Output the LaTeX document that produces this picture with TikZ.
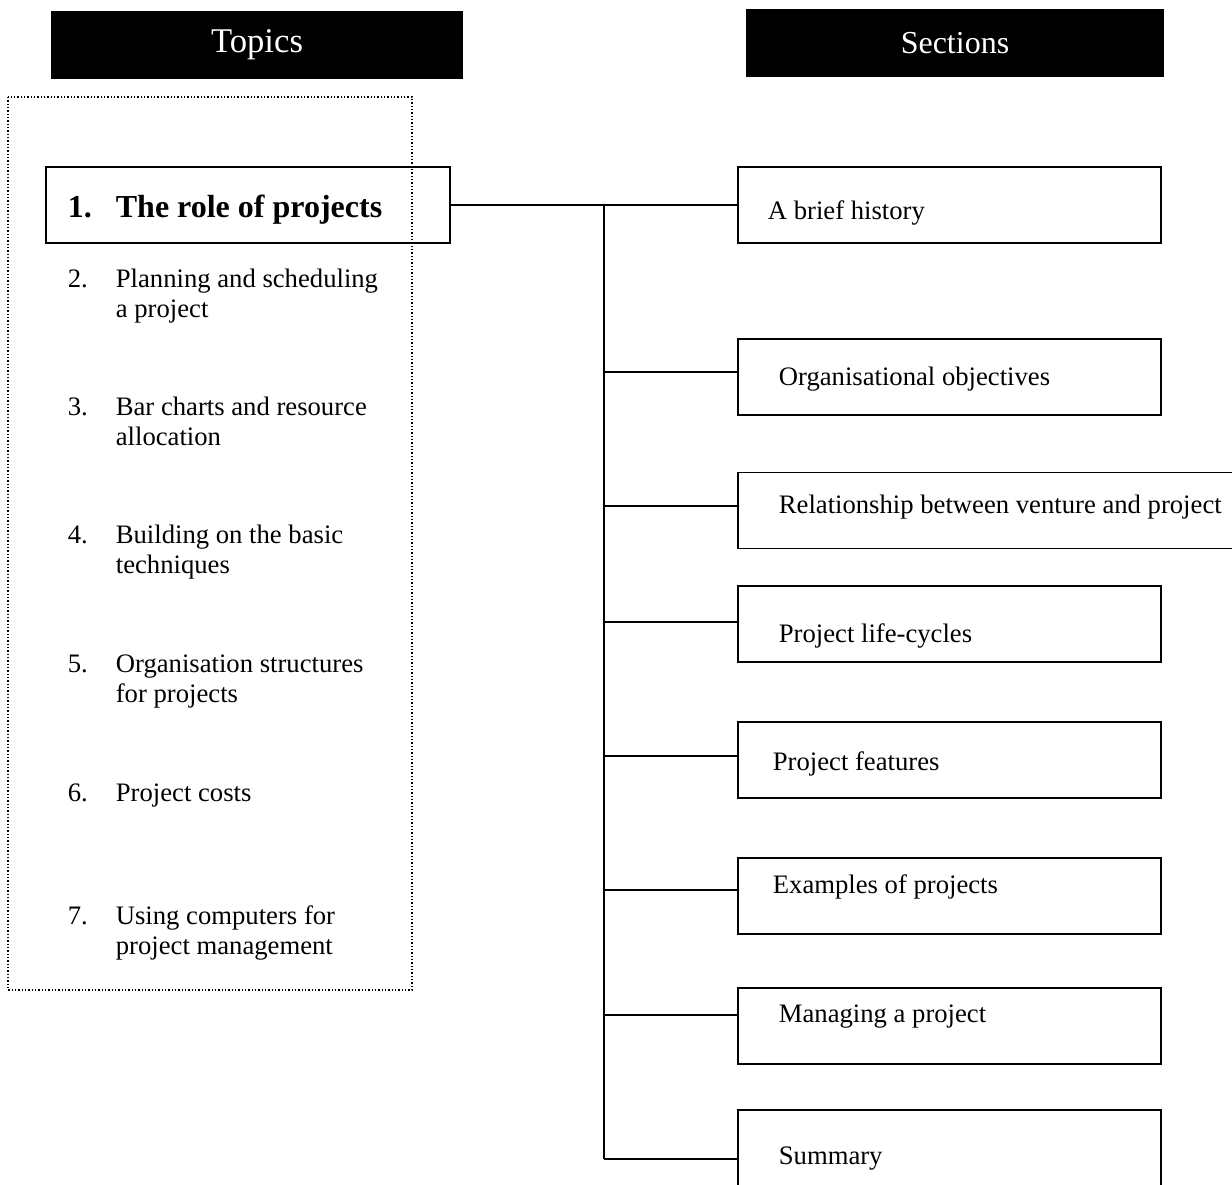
\documentclass[tikz,border=0pt]{standalone}
\usepackage{fontspec}
\setmainfont{Liberation Serif}
\begin{document}
\begin{tikzpicture}[x=0.75pt,y=-0.75pt,
  line width=1.3pt,
  header/.style={fill=black,text=white,inner sep=0pt,minimum width=#1,minimum height=51pt},
  topicbox/.style={draw,inner sep=0pt,minimum width=303pt,minimum height=57pt},
  sectbox/.style={draw,inner sep=0pt,minimum width=317.25pt,minimum height=57pt},
  sectlabel/.style={anchor=base west,inner sep=0pt,font=\fontsize{20}{22.5}\selectfont},
  topicnum/.style={anchor=base west,inner sep=0pt,font=\fontsize{20}{22.5}\selectfont},
  topictext/.style={anchor=base west,inner sep=0pt,font=\fontsize{20}{22.5}\selectfont},
  link/.style={line width=1.3pt}
]
\useasboundingbox (0,0) rectangle (1232,1185);
\clip (0,0) rectangle (1232,1185);

% column headers
\node[header=309pt,font=\fontsize{26}{30}\selectfont] (topics) at (257,45) {Topics};
\node[header=313.5pt,font=\fontsize{24}{28}\selectfont] (sections) at (955,43) {Sections};

% dotted frame round the list of topics
\draw[line width=1.1pt,dash pattern=on 1.1pt off 1.4pt] (8,97) rectangle (412,990);

% current topic
\node[topicbox] (role) at (248,205) {};
\node[anchor=base west,inner sep=0pt,font=\bfseries\fontsize{24}{28}\selectfont] (rolenum) at (67,217) {1.};
\node[anchor=base west,inner sep=0pt,font=\bfseries\fontsize{24}{28}\selectfont] (roletext) at (115,217) {The role of projects};

% remaining topics, one node per printed line
\node[topicnum] (n2) at (67,287) {2.};
\node[topictext] (t2) at (115,287) {Planning and scheduling};
\node[topictext] (t2b) at (115,317) {a project};
\node[topicnum] (n3) at (67,415) {3.};
\node[topictext] (t3) at (115,415) {Bar charts and resource};
\node[topictext] (t3b) at (115,445) {allocation};
\node[topicnum] (n4) at (67,543) {4.};
\node[topictext] (t4) at (115,543) {Building on the basic};
\node[topictext] (t4b) at (115,573) {techniques};
\node[topicnum] (n5) at (67,672) {5.};
\node[topictext] (t5) at (115,672) {Organisation structures};
\node[topictext] (t5b) at (115,702) {for projects};
\node[topicnum] (n6) at (67,801) {6.};
\node[topictext] (t6) at (115,801) {Project costs};
\node[topicnum] (n7) at (67,924) {7.};
\node[topictext] (t7) at (115,924) {Using computers for};
\node[topictext] (t7b) at (115,954) {project management};

% section boxes
\node[sectbox] (s1) at (949.5,205) {};
\node[sectbox] (s2) at (949.5,377) {};
\node[sectbox,minimum width=384pt] (s3) at (994,510.5) {};
\node[sectbox] (s4) at (949.5,624) {};
\node[sectbox] (s5) at (949.5,760) {};
\node[sectbox] (s6) at (949.5,896) {};
\node[sectbox] (s7) at (949.5,1026) {};
\node[sectbox,minimum height=67pt] (s8) at (949.5,1155) {};

% section labels
\node[sectlabel] (l1) at (767,219) {A brief history};
\node[sectlabel] (l2) at (778,385) {Organisational objectives};
\node[sectlabel] (l3) at (778,513) {Relationship between venture and project};
\node[sectlabel] (l4) at (778,642) {Project life-cycles};
\node[sectlabel] (l5) at (772,770) {Project features};
\node[sectlabel] (l6) at (772,893) {Examples of projects};
\node[sectlabel] (l7) at (778,1022) {Managing a project};
\node[sectlabel] (l8) at (778,1164) {Summary};

% connectors
\coordinate (top) at (604,205);
\coordinate (b2) at (604,372);
\coordinate (b3) at (604,506);
\coordinate (b4) at (604,622);
\coordinate (b5) at (604,756);
\coordinate (b6) at (604,890);
\coordinate (b7) at (604,1015);
\coordinate (b8) at (604,1159);

\draw[link] (role.east) -- (s1.west);
\draw[link] (top) -- (b8);
\draw[link] (b2) -- (s2.west |- b2);
\draw[link] (b3) -- (s3.west |- b3);
\draw[link] (b4) -- (s4.west |- b4);
\draw[link] (b5) -- (s5.west |- b5);
\draw[link] (b6) -- (s6.west |- b6);
\draw[link] (b7) -- (s7.west |- b7);
\draw[link] (b8) -- (s8.west |- b8);
\end{tikzpicture}
\end{document}
